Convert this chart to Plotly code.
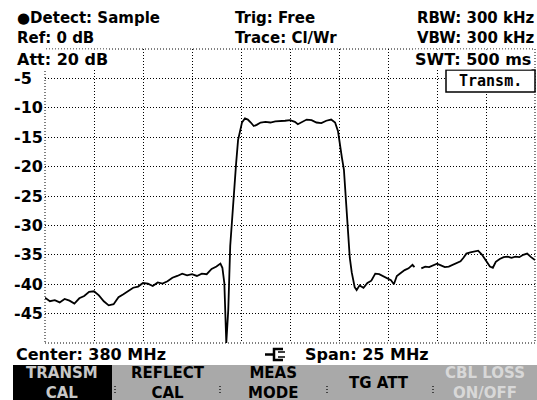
import plotly.graph_objects as go

# ---------------- data ----------------
freq_mhz = [
    367.50, 367.75, 368.00, 368.25, 368.50, 368.75, 369.00, 369.25, 369.50, 369.75,
    370.00, 370.25, 370.50, 370.75, 371.00, 371.25, 371.50, 371.75, 372.00, 372.25,
    372.50, 372.75, 373.00, 373.25, 373.50, 373.75, 374.00, 374.25, 374.50, 374.75,
    375.00, 375.25, 375.50, 375.75, 376.00, 376.25, 376.45, 376.55, 376.65, 376.75,
    376.85, 376.95, 377.05, 377.15, 377.25, 377.35, 377.45, 377.55, 377.70, 377.85,
    378.00, 378.15, 378.30, 378.50, 378.75, 379.00, 379.25, 379.50, 379.75, 380.00,
    380.25, 380.40, 380.60, 380.85, 381.10, 381.35, 381.60, 381.85, 382.10, 382.30,
    382.45, 382.55, 382.65, 382.75, 382.85, 382.95, 383.05, 383.15, 383.30, 383.40,
    383.55, 383.75, 383.95, 384.15, 384.35, 384.55, 384.75, 384.95, 385.15, 385.30,
    385.45, 385.65, 385.85, 386.05, 386.25, 386.35, 386.50, 386.70, 386.90, 387.10,
    387.30, 387.50, 387.70, 387.90, 388.10, 388.30, 388.50, 388.70, 388.85, 389.00,
    389.20, 389.40, 389.60, 389.80, 390.00, 390.20, 390.35, 390.50, 390.70, 390.90,
    391.10, 391.30, 391.50, 391.70, 391.90, 392.10, 392.30, 392.50,
]
level_db = [
    -42.3, -42.9, -42.7, -43.1, -42.5, -42.8, -43.3, -42.4, -42.0, -41.3,
    -41.2, -41.9, -42.9, -43.6, -43.4, -42.2, -41.7, -41.2, -40.6, -40.4,
    -39.8, -39.9, -40.3, -39.7, -39.9, -39.5, -38.9, -38.6, -38.2, -38.5,
    -38.3, -38.6, -38.2, -38.3, -37.4, -37.0, -36.5, -37.2, -39.8, -50.0,
    -44.4, -33.5, -28.5, -23.0, -19.5, -15.5, -13.8, -12.5, -11.8, -12.0,
    -12.5, -13.1, -12.9, -12.5, -12.4, -12.5, -12.3, -12.3, -12.2, -12.1,
    -12.4, -12.8, -12.4, -12.0, -12.1, -12.5, -12.6, -12.2, -12.0, -12.5,
    -14.0, -16.5, -18.5, -20.5, -25.5, -31.0, -35.5, -38.0, -40.5, -41.0,
    -40.2, -40.6, -39.8, -39.4, -38.2, -38.3, -38.6, -38.9, -39.3, -40.0,
    -38.6, -38.1, -37.6, -37.3, -36.7, -37.1, None, -37.3, -37.0, -37.1,
    -36.8, -36.5, -36.8, -37.1, -37.0, -36.7, -36.5, -36.1, -35.5, -34.8,
    -34.6, -34.5, -34.3, -35.0, -36.0, -37.0, -37.2, -36.2, -35.7, -35.4,
    -35.3, -35.5, -35.3, -35.4, -35.0, -34.8, -35.4, -35.9,
]
ytick_vals = [-5, -10, -15, -20, -25, -30, -35, -40, -45]
ytick_text = ["-5", "-10", "-15", "-20", "-25", "-30", "-35", "-40", "-45"]
softkeys = ["TRANSM<br>CAL", "REFLECT<br>CAL", "MEAS<br>MODE", "TG ATT", "CBL LOSS<br>ON/OFF"]

# ---------------- layout helpers ----------------
W, H = 537, 400
L, R, T, B = 45, 535, 49, 343


def xp(px):
    return (px - L) / (R - L)


def yp(py):
    return (B - py) / (B - T)


FONT = "DejaVu Sans"
DOT = "1px,2px"

fig = go.Figure()
fig.add_trace(go.Scatter(x=freq_mhz, y=level_db, mode="lines",
                         line=dict(color="black", width=1.8),
                         connectgaps=False, hoverinfo="skip", showlegend=False))

fig.update_layout(
    width=W, height=H,
    margin=dict(l=L, r=W - R, t=T, b=H - B, pad=0),
    paper_bgcolor="white", plot_bgcolor="white",
    showlegend=False,
    font=dict(family=FONT, size=16, color="black"),
    xaxis=dict(range=[367.5, 392.5], tick0=367.5, dtick=2.5, showgrid=True,
               gridcolor="black", gridwidth=1, griddash=DOT,
               showticklabels=False, ticks="", zeroline=False, showline=False,
               fixedrange=True),
    yaxis=dict(range=[-50, 0], tick0=0, dtick=5, showgrid=True,
               gridcolor="black", gridwidth=1, griddash=DOT,
               showticklabels=False, ticks="", zeroline=False, showline=False,
               fixedrange=True),
)

shapes = []
# dotted frame
shapes.append(dict(type="rect", xref="paper", yref="paper", x0=0, x1=1, y0=0, y1=1,
                   line=dict(color="black", width=1, dash=DOT), layer="below"))
# soft-key bar
shapes.append(dict(type="rect", xref="paper", yref="paper", x0=xp(13), x1=xp(537),
                   y0=yp(365), y1=yp(400), fillcolor="#a9a9a9", line=dict(width=0)))
shapes.append(dict(type="rect", xref="paper", yref="paper", x0=xp(13), x1=xp(112),
                   y0=yp(365), y1=yp(400), fillcolor="black", line=dict(width=0)))
for sx in [115, 220, 327, 433]:
    shapes.append(dict(type="line", xref="paper", yref="paper", x0=xp(sx), x1=xp(sx),
                       y0=yp(386), y1=yp(395), line=dict(color="#222", width=1.5, dash=DOT)))
# Transm. box
shapes.append(dict(type="rect", xref="paper", yref="paper", x0=xp(446), x1=xp(535),
                   y0=yp(92), y1=yp(70), fillcolor="white", line=dict(color="black", width=1.5)))
# plug symbol
shapes.append(dict(type="line", xref="paper", yref="paper", x0=xp(265), x1=xp(273),
                   y0=yp(354.5), y1=yp(354.5), line=dict(color="black", width=2.5)))
shapes.append(dict(type="path", xref="paper", yref="paper",
                   path="M {} {} L {} {} L {} {} L {} {}".format(
                       xp(283), yp(349), xp(274), yp(349), xp(274), yp(360), xp(283), yp(360)),
                   line=dict(color="black", width=2.5)))
shapes.append(dict(type="line", xref="paper", yref="paper", x0=xp(278), x1=xp(285),
                   y0=yp(352), y1=yp(352), line=dict(color="black", width=1.5)))
shapes.append(dict(type="line", xref="paper", yref="paper", x0=xp(278), x1=xp(285),
                   y0=yp(357), y1=yp(357), line=dict(color="black", width=1.5)))
fig.update_layout(shapes=shapes)

ann = []


def txt(text, px, py, anchor="left", bg=None, color="black", size=16, family=FONT):
    d = dict(text=text, xref="paper", yref="paper", x=xp(px), y=yp(py),
             xanchor=anchor, yanchor="middle", showarrow=False,
             font=dict(family=family, size=size, color=color), borderpad=0)
    if bg:
        d["bgcolor"] = bg
    ann.append(d)


# y tick labels placed on the y axis scale
for v, t in zip(ytick_vals, ytick_text):
    ann.append(dict(text="<b>%s</b>" % t, xref="paper", yref="y", x=xp(12), y=v,
                    xanchor="left", yanchor="middle", showarrow=False,
                    font=dict(family=FONT, size=16, color="black")))

txt("<b>●Detect: Sample</b>", 16, 18, size=15)
txt("<b>Ref: 0 dB</b>", 16, 37.6, size=15)
txt("<b>Att: 20 dB</b>", 16, 59, bg="white")
txt("<b>Trig: Free</b>", 234, 18, size=15)
txt("<b>Trace: Cl/Wr</b>", 234, 37.6, size=15)
txt("<b>RBW: 300 kHz</b>", 536, 18, anchor="right", size=15)
txt("<b>VBW: 300 kHz</b>", 536, 37.6, anchor="right", size=15)
txt("<b>SWT: 500 ms</b>", 414, 59, bg="white")
txt("<b>Transm.</b>", 490.5, 81, anchor="center", family="DejaVu Sans Mono", size=15)
txt("<b>Center: 380 MHz</b>", 15, 354.5)
txt("<b>Span: 25 MHz</b>", 304, 354.5)

key_cx = [62, 168, 273, 379, 485]
key_col = ["#c8c8c8", "black", "black", "black", "#d8d8d8"]
for lab, cx, col in zip(softkeys, key_cx, key_col):
    ann.append(dict(text="<b>%s</b>" % lab, xref="paper", yref="paper", x=xp(cx), y=yp(383),
                    xanchor="center", yanchor="middle", showarrow=False, align="center",
                    font=dict(family=FONT, size=15, color=col), borderpad=0))

fig.update_layout(annotations=ann)
fig.write_html("out.html", config={"displayModeBar": False, "staticPlot": True},
               post_script="document.body.style.margin='0';")
